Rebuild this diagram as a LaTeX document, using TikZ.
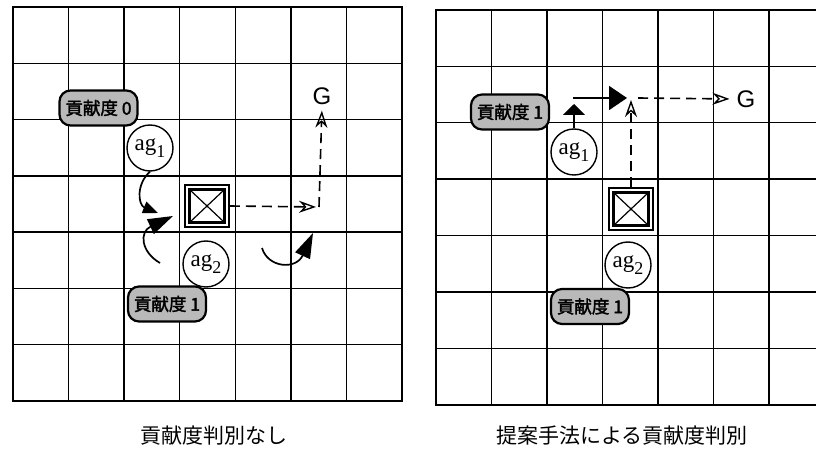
\documentclass[tikz,border=0pt]{standalone}
\usepackage{fontspec}
\newfontfamily\cjk{Noto Sans CJK JP}
\newfontfamily\cjkb[FakeBold=2]{Noto Sans CJK JP}
\newfontfamily\gfont{Liberation Sans}
\newfontfamily\agfont{Liberation Serif}
\newcommand\agtxt[1]{\agfont ag\raisebox{-7pt}{\fontsize{18}{18}\selectfont #1}}
\usetikzlibrary{arrows.meta}
\tikzset{
  gridline/.style={line width=1.4pt},
  gridborder/.style={line width=2.4pt},
  score/.style={draw, line width=2.2pt, rounded corners=11pt, fill=gray!55,
    minimum width=78pt, minimum height=35pt, inner sep=0pt,
    font=\cjkb\fontsize{17.5}{18}\selectfont},
  agent/.style={circle, draw, line width=1.4pt, minimum size=46pt, inner sep=0pt,
    fill=white, font=\fontsize{23}{23}\selectfont},
  obj/.style={draw, line width=1.8pt, minimum width=44pt, minimum height=42pt,
    inner sep=0pt, fill=white},
  objin/.style={draw, line width=2.2pt, minimum width=35pt, minimum height=33pt,
    inner sep=0pt,
    path picture={\draw[line width=1.2pt] (path picture bounding box.north west) -- (path picture bounding box.south east)
      (path picture bounding box.north east) -- (path picture bounding box.south west);}},
  move/.style={line width=1.7pt},
  plan/.style={line width=1.6pt, dash pattern=on 10pt off 6pt,
    -{Stealth[open, length=17pt, width=12pt, line width=1.4pt]}},
  goal/.style={font=\gfont\fontsize{24}{24}\selectfont, inner sep=1pt},
  caption/.style={font=\cjk\fontsize{21}{21}\selectfont, inner sep=0pt}
}
\begin{document}
\begin{tikzpicture}[x=1pt, y=-1pt]
\clip (0,0) rectangle (816,454);
\fill[white] (0,0) rectangle (816,454);

% ---------- left grid ----------
\foreach \i in {1,...,6} {
  \draw[gridline] ({13+\i*55.57},7) -- ({13+\i*55.57},401);
  \draw[gridline] (13,{7+\i*56.29}) -- (402,{7+\i*56.29});
}
\draw[gridborder] (13,7) rectangle (402,401);

% ---------- right grid ----------
\foreach \i in {1,...,7} {
  \draw[gridline] ({436+\i*55.5},10) -- ({436+\i*55.5},405);
}
\foreach \i in {1,...,6} {
  \draw[gridline] (436,{10+\i*56.4}) -- (830,{10+\i*56.4});
}
\draw[gridborder] (830,10) -- (436,10) -- (436,405) -- (830,405);

% ---------- left scene ----------
\node[score] (sL0) at (98.5,108) {貢献度 0};
\node[agent] (ag1L) at (150,148) {\agtxt{1}};
\node[obj] (boxL) at (207,206) {};
\node[objin] (boxLi) at (boxL) {};
\node[agent] (ag2L) at (206,264) {\agtxt{2}};
\node[score] (sL1) at (167,304) {貢献度 1};
\node[goal] (GL) at (322,96) {G};

\coordinate (t1) at (158,213);
\coordinate (s2) at (160,263);
\coordinate (t2) at (173,216);
\coordinate (s3) at (262,248);
\coordinate (t3) at (313,233);
\coordinate (cL) at (319,207);

\draw[move, -{Triangle[length=15pt, width=12pt]}]
  (ag1L.south) .. controls (136,184) and (138,205) .. (t1);
\draw[move, -{Triangle[length=25pt, width=16pt]}]
  (s2) .. controls (141,252) and (139,232) .. (t2);
\draw[move, -{Triangle[length=25pt, width=16pt]}]
  (s3) .. controls (268,268) and (296,270) .. (t3);

\draw[plan, shorten >=3pt] (boxL.east) -- (cL);
\draw[plan, shorten >=5pt] (cL) -- (GL.south);

% ---------- right scene ----------
\node[score] (sR1) at (510,112) {貢献度 1};
\node[agent] (ag1R) at (574,152) {\agtxt{1}};
\node[obj] (boxR) at (631,209) {};
\node[objin] (boxRi) at (boxR) {};
\node[agent] (ag2R) at (628,265) {\agtxt{2}};
\node[score] (sR2) at (590,306.5) {貢献度 1};
\node[goal] (GR) at (746,99) {G};

\coordinate (u1) at (574,104);
\coordinate (h1) at (573,98);
\coordinate (h1t) at (627,98);
\coordinate (cR) at (631,100);
\coordinate (d1) at (638,98);

\draw[move, -{Triangle[length=11pt, width=22pt]}] (ag1R.north) -- (u1);
\draw[move, -{Triangle[length=18pt, width=24pt]}] (h1) -- (h1t);
\draw[plan] (boxR.north) -- (cR);
\draw[plan, shorten >=6pt] (d1) -- (GR.west);

% ---------- captions ----------
\node[caption] (capL) at (214,436) {貢献度判別なし};
\node[caption] (capR) at (622,436) {提案手法による貢献度判別};
\end{tikzpicture}
\end{document}
